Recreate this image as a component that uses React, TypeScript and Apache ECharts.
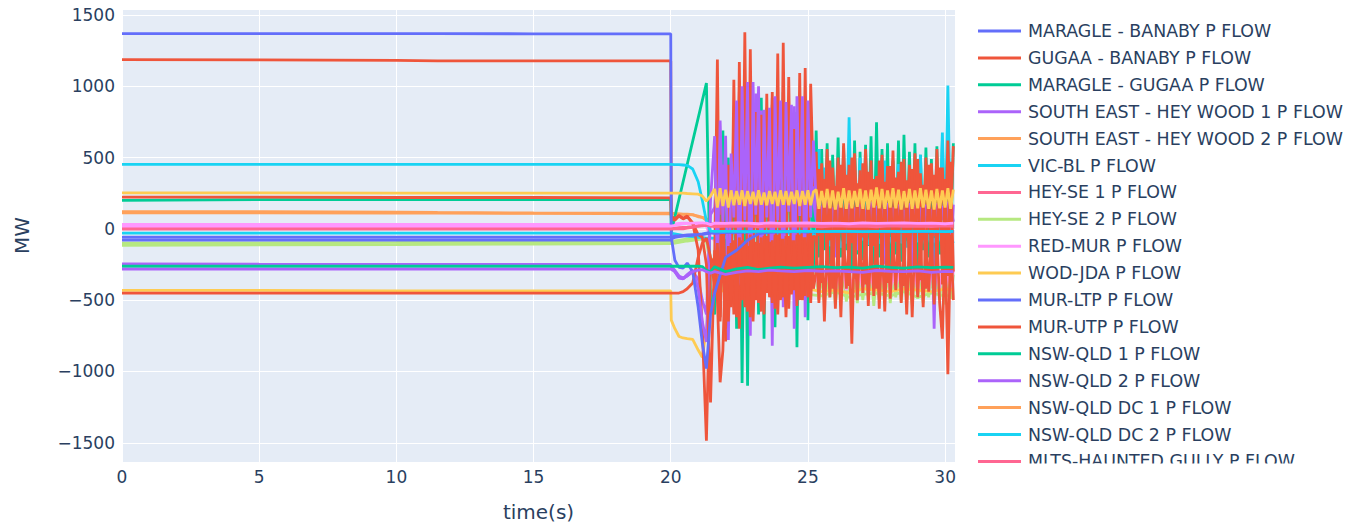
import React, { useEffect, useRef } from 'react';
import * as echarts from 'echarts';

// ---------- DATA ----------
const LEGEND_NAMES = [
  'MARAGLE - BANABY P FLOW',
  'GUGAA - BANABY P FLOW',
  'MARAGLE - GUGAA P FLOW',
  'SOUTH EAST - HEY WOOD 1 P FLOW',
  'SOUTH EAST - HEY WOOD 2 P FLOW',
  'VIC-BL P FLOW',
  'HEY-SE 1 P FLOW',
  'HEY-SE 2 P FLOW',
  'RED-MUR P FLOW',
  'WOD-JDA P FLOW',
  'MUR-LTP P FLOW',
  'MUR-UTP P FLOW',
  'NSW-QLD 1 P FLOW',
  'NSW-QLD 2 P FLOW',
  'NSW-QLD DC 1 P FLOW',
  'NSW-QLD DC 2 P FLOW',
  'MLTS-HAUNTED GULLY P FLOW',
];

const T_PRE = [0, 5, 10, 11.5, 15, 20];
const T_TR = [20.02, 20.15, 20.3, 20.45, 20.6, 20.8, 21.0, 21.15, 21.3, 21.45];
const T_DENSE = [
  21.6, 21.7, 21.8, 21.9, 22.0, 22.1, 22.2, 22.3, 22.4, 22.5,
  22.6, 22.7, 22.8, 22.9, 23.0, 23.1, 23.2, 23.3, 23.4, 23.5,
  23.6, 23.7, 23.8, 23.9, 24.0, 24.1, 24.2, 24.3, 24.4, 24.5,
  24.6, 24.7, 24.8, 24.9, 25.0, 25.1, 25.2, 25.3, 25.4, 25.5,
  25.6, 25.7, 25.8, 25.9, 26.0, 26.1, 26.2, 26.3, 26.4, 26.5,
  26.6, 26.7, 26.8, 26.9, 27.0, 27.1, 27.2, 27.3, 27.4, 27.5,
  27.6, 27.7, 27.8, 27.9, 28.0, 28.1, 28.2, 28.3, 28.4, 28.5,
  28.6, 28.7, 28.8, 28.9, 29.0, 29.1, 29.2, 29.3, 29.4, 29.5,
  29.6, 29.7, 29.8, 29.9, 30.0, 30.1, 30.2, 30.3,
];
const T_SLOW = [21.6, 22.0, 22.4, 22.8, 23.2, 23.6, 24.0, 24.5, 25.0, 25.5,
  26.0, 26.5, 27.0, 27.5, 28.0, 28.5, 29.0, 29.5, 30.0, 30.3];

const S01 = {
  pre: [1370, 1370, 1370, 1370, 1368, 1368],
  tr: [-60, -220, -270, -275, -240, -300, -550, -800, -980, -600],
  post: [-450, -200, -150, -80, -35, -22, -20, -18, -20, -18, -20, -18, -20, -18, -20, -18, -20, -18, -20, -18],
};
const S02 = {
  pre: [1187, 1185, 1182, 1178, 1178, 1178],
  tr: [90, 70, 95, 75, 90, 40, -150, -700, -1486, -250],
  post: [
    -200, 1187, -620, 300, -790, 450, -450, 1046, -560, 1170,
    -400, 1378, -500, 1260, -350, 820, -480, 800, -300, 947,
    -420, 960, -330, 1229, -460, 1305, -380, 1065, -300, 700,
    -420, 1093, -350, 1128, -400, 1018, 300,
    540, -50, 460, 20, 560, -80, 430, 60, 500, -30,
    600, 10, 450, -100, 530, 40, 410, -60, 560, 0,
    480, -120, 370, 50, 520, -40, 440, 30, 550, -90,
    400, 20, 490, -60, 450, 40, 530, -20, 390, -80,
    500, 10, 460, -50, 560, 30, 430, -70, 620, 20,
    580,
  ],
};
const S03 = {
  pre: [200, 205, 205, 205, 205, 205],
  tr: [-20, null, null, null, null, null, null, null, 1022, -500],
  post: [
    -600, 773, -200, 690, -400, 500, -350, 600, -700, 650,
    -1080, 700, -1100, 750, -500, 800, -600, 920, -770, 850,
    -450, 870, -690, 800, -400, 960, -500, 780, -350, 820,
    -830, 750, -400, 800, -640, 700, -300,
    690, -200, 560, -150, 600, -250, 520, -100, 640, -200,
    580, -150, 500, -300, 620, -180, 540, -220, 590, -120,
    650, -250, 747, -200, 560, -150, 600, -300, 480, -180,
    620, -230, 660, -120, 540, -200, 600, -260, 520, -150,
    570, -200, 490, -250, 580, -180, 620, -220, 560, -150,
    600,
  ],
};
const S04 = {
  pre: [-245, -248, -250, -250, -250, -250],
  tr: [-260, -300, -345, -350, -320, -290, -420, -650, -794, 200],
  post: [
    650, -300, 759, 50, 653, -780, 529, 80, 900, -600,
    1000, 60, 1030, -750, 1030, 100, 1000, -500, 835, 80,
    850, -820, 930, 60, 900, -550, 890, 120, 870, -700,
    930, 90, 930, -620, 900, 80, 620,
    180, 40, 160, 30, 190, 60, 150, -200, 170, 50,
    140, 20, 180, 60, 150, -150, 170, 40, 130, 50,
    190, 30, 160, 60, 140, -250, 180, 40, 150, 50,
    170, 20, 130, 60, 180, -300, 160, 40, 150, 30,
    170, 50, 140, -700, 180, 30, 160, 40, 190, -200,
    170,
  ],
};
const S05 = {
  pre: [120, 120, 118, 115, 112, 110],
  tr: [108, 106, 105, 104, 103, 100, 85, 80, 72, 40],
  post: [30, 28, 25, 27, 25, 26, 24, 25, 26, 25, 24, 25, 26, 25, 24, 25, 26, 25, 24, 25],
};
const S06 = {
  pre: [452, 452, 452, 452, 452, 452],
  tr: [452, 450, 450, 448, 445, 420, 330, 200, 53, -15],
  post: [-18, -18, -18, -20, -18, -18, -20, -18, -18, -20, -18, -18, -20, -18, -18, -20, -18, -18, -20, -18],
};
const S07 = {
  pre: [-2, -2, -2, -2, -2, -2],
  tr: [-2, 0, 2, 0, 5, 10, 20, 25, 30, 25],
  post: [30, 25, 35, 28, 32, 25, 30, 28, 35, 27, 30, 25, 32, 28, 30, 26, 33, 28, 30, 27],
};
const S08 = {
  pre: [-100, -98, -95, -92, -90, -88],
  tr: [-88, -85, -80, -75, -70, -65, -60, -55, -80, -200],
  post: [
    -250, -420, -300, -440, -280, -400, -300, -380, -260, -420,
    -300, -400, -280, -380, -300, -420, -260, -400, -300, -380,
    -280, -420, -300, -400, -260, -380, -300, -420, -280, -400,
    -300, -380, -260, -420, -300, -400, -280,
    -320, -500, -300, -520, -340, -480, -310, -530, -330, -490,
    -300, -510, -320, -470, -340, -520, -300, -500, -330, -480,
    -310, -540, -320, -500, -340, -490, -300, -520, -330, -480,
    -310, -510, -320, -500, -340, -530, -300, -490, -330, -520,
    -310, -480, -320, -510, -340, -500, -300, -530, -330, -490,
    -320,
  ],
};
const S09 = {
  pre: [32, 32, 32, 32, 32, 32],
  tr: [32, 35, 38, 40, 40, 38, 35, 30, 20, -60],
  post: [
    -80, -120, -100, -200, -110, -300, -120, -330, -100, -340,
    -130, -320, -110, -350, -120, -330, -140, -300, -160, -320,
    -220, -380, -250, -400, -240, -380, -260, -400, -250, -390,
    -270, -410, -250, -380, -260, -400, -270,
    -300, -420, -280, -430, -310, -400, -290, -440, -300, -410,
    -280, -430, -310, -420, -290, -400, -300, -440, -280, -410,
    -310, -430, -290, -400, -300, -420, -280, -440, -310, -410,
    -290, -430, -300, -400, -280, -420, -310, -440, -290, -410,
    -300, -430, -280, -400, -310, -420, -290, -440, -300, -410,
    -290,
  ],
};
const S10 = {
  pre: [252, 252, 250, 250, 250, 250],
  tr: [250, 250, 250, 250, 248, 246, 243, 230, 194, 230],
  post: [
    280, 150, 285, 160, 275, 150, 270, 165, 265, 170,
    270, 160, 265, 175, 260, 165, 270, 170, 255, 165,
    265, 175, 260, 160, 270, 170, 265, 165, 260, 175,
    270, 160, 265, 170, 270, 165, 260,
    275, 140, 265, 150, 280, 145, 270, 135, 260, 150,
    285, 140, 270, 145, 265, 155, 280, 140, 270, 135,
    275, 150, 290, 145, 280, 140, 270, 150, 285, 145,
    275, 135, 265, 150, 280, 140, 270, 145, 285, 150,
    275, 140, 270, 135, 280, 145, 270, 150, 285, 140,
    275,
  ],
};
const S11 = {
  pre: [-78, -78, -78, -78, -78, -78],
  tr: [-70, -60, -55, -50, -48, -45, -42, -40, -35, -30],
  post: [-30, -25, -22, -22, -20, -20, -22, -20, -20, -22, -20, -20, -22, -20, -20, -22, -20, -20, -22, -20],
};
const S12 = {
  pre: [222, 222, 220, 220, 220, 218],
  tr: [75, 60, 90, 70, 85, 40, -40, -60, -250, -1218],
  post: [
    -150, -500, -1076, -853, -200, -650, -100, -600, -150, -700,
    -80, -550, -120, -620, -60, -500, -100, -580, -50, -450,
    -90, -520, -40, -600, -70, -480, -50, -560, -80, -430,
    -40, -500, -60, -470, -30, -520, -50,
    -60, -520, -40, -650, -80, -480, -30, -560, -70, -620,
    -50, -420, -90, -806, -40, -500, -60, -450, -30, -540,
    -80, -470, -50, -560, -70, -580, -40, -490, -60, -430,
    -30, -520, -80, -600, -50, -620, -40, -480, -70, -550,
    -30, -440, -60, -530, -50, -520, -770, -50, -1020, -40,
    -500,
  ],
};
const S13 = {
  pre: [-262, -262, -262, -262, -262, -262],
  tr: [-262, -262, -262, -262, -262, -262, -262, -265, -290, -300],
  post: [-265, -300, -280, -270, -285, -275, -268, -275, -270, -265, -272, -268, -275, -262, -270, -275, -266, -272, -268, -270],
};
const S14 = {
  pre: [-282, -282, -282, -282, -282, -282],
  tr: [-282, -300, -340, -350, -330, -300, -290, -285, -300, -310],
  post: [-300, -320, -305, -295, -300, -290, -295, -300, -292, -298, -295, -300, -305, -292, -298, -300, -295, -305, -298, -300],
};
const S15 = {
  pre: [112, 112, 110, 110, 108, 106],
  tr: [106, 105, 104, 102, 100, 98, 90, 80, 60, 35],
  post: [28, 25, 24, 26, 25, 24, 25, 26, 24, 25, 26, 24, 25, 26, 24, 25, 26, 24, 25, 24],
};
const S16 = {
  pre: [-30, -30, -30, -30, -30, -30],
  tr: [-30, -35, -40, -45, -50, -55, -60, -62, -65, -65],
  post: [
    -65, -66, -64, -65, -60, -40, -35, -30, -32, -28,
    -30, -25, -28, -30, -26, -28, -30, -25, -28, -30,
    -27, -25, -28, -30, -26, -28, -25, -30, -27, -25,
    -28, -30, -26, -28, -25, -30, -40,
    -60, 560, -100, 430, -50, -120, -60, -110, -40, -130,
    -70, -100, 782, -90, -50, -120, 500, -80, -60, -110,
    -40, -120, -70, -100, -50, 480, -90, -60, -120, -40,
    455, -100, -60, -130, -50, -110, -70, -90, 520, -60,
    -120, -40, -100, -70, -110, -50, 676, -90, 1006, -60,
    -100,
  ],
};
const S17 = {
  pre: [5, 5, 5, 5, 5, 5],
  tr: [5, 5, 8, 10, 12, 15, 20, 22, 25, 20],
  post: [15, 20, 18, 22, 15, 20, 18, 22, 20, 15, 22, 18, 20, 15, 22, 18, 20, 16, 22, 18],
};
const S18 = {
  pre: [-115, -112, -110, -108, -106, -104],
  tr: [-104, -100, -95, -90, -85, -80, -75, -70, -90, -250],
  post: [-380, -420, -400, -380, -420, -440, -450, -430, -460, -470, -440, -480, -460, -450, -470, -440, -480, -450, -470, -460],
};
const S19 = {
  pre: [20, 20, 20, 20, 20, 20],
  tr: [20, 25, 30, 35, 38, 40, 42, 42, 40, 30],
  post: [40, 38, 42, 40, 36, 42, 38, 40, 42, 38, 40, 36, 42, 38, 40, 42, 38, 40, 36, 40],
};
const S20 = {
  pre: [-432, -432, -435, -435, -435, -435],
  tr: [-640, -700, -755, -765, -770, -775, -850, -900, -700, -450],
  post: [-420, -440, -430, -400, -420, -440, -430, -410, -420, -440, -430, -450, -420, -430, -440, -420, -430, -440, -420, -430],
};
const S21 = {
  pre: [-58, -58, -58, -58, -58, -58],
  tr: [-55, -50, -48, -45, -42, -40, -38, -35, -30, -25],
  post: [-30, -25, -22, -20, -20, -22, -20, -20, -22, -20, -20, -22, -20, -20, -22, -20, -20, -22, -20, -20],
};
const S22 = {
  pre: [-450, -450, -450, -450, -450, -450],
  tr: [-450, -450, -450, -440, -420, -380, -200, -100, -65, -200],
  post: [
    -400, -100, -650, -60, -700, -120, -550, -80, -620, -60,
    -500, -100, -580, -40, -650, -90, -520, -60, -600, -50,
    -480, -80, -560, -40, -500, -70, -620, -50, -460, -80,
    -540, -40, -500, -60, -480, -30, -420,
    -300, 420, -380, 350, -250, 480, -420, 300, -330, 450,
    -280, 380, -400, 500, -350, 320, -260, 460, -390, 400,
    -300, 350, -420, 480, -270, 330, -380, 440, -310, 360,
    -250, 470, -400, 340, -330, 420, -280, 490, -360, 310,
    -420, 450, -300, 380, -260, 430, -390, 350, -330, 470,
    -300,
  ],
};
const S23 = {
  pre: [-255, -255, -255, -255, -255, -255],
  tr: [-265, -290, -330, -345, -330, -300, -350, -500, -600, 100],
  post: [
    150, 500, 100, 450, 150, 400, 100, 700, 150, 960,
    200, 980, 100, 1020, 150, 950, 200, 830, 150, 800,
    100, 920, 200, 850, 150, 900, 100, 820, 200, 860,
    150, 920, 100, 900, 150, 650, 200,
    60, 170, 30, 150, 50, 180, 40, 160, 20, 170,
    60, 140, 30, 190, 50, 150, 40, 170, 60, 130,
    30, 180, 50, 160, 40, 150, 20, 170, 60, 140,
    30, 180, 50, 160, 40, 190, 60, 150, 30, 170,
    50, 140, 40, 180, 20, 160, 60, 150, 30, 170,
    50,
  ],
};

const SERIES_VALUES = [S01, S02, S03, S04, S05, S06, S07, S08, S09, S10, S11,
  S12, S13, S14, S15, S16, S17, S18, S19, S20, S21, S22, S23];

// ---------- STYLE ----------
const PALETTE = ['#636efa', '#EF553B', '#00cc96', '#ab63fa', '#FFA15A', '#19d3f3',
  '#FF6692', '#B6E880', '#FF97FF', '#FECB52'];
const COLOR_INDEX = [0, 1, 2, 3, 4, 5, 6, 7, 8, 9, 0, 1, 2, 3, 4, 5, 6, 7, 8, 9, 0, 1, 3];
const LAYER = [6, 3, 2, 4, 1, 6, 6, 1, 1, 6, 5, 5, 6, 6, 1, 2, 6, 1, 6, 1, 5, 5, 2];
const FONT = 'DejaVu Sans';
const TEXT = '#2a3f5f';

function toPoints(s: { pre: number[]; tr: (number | null)[]; post: number[] }) {
  const out: number[][] = [];
  T_PRE.forEach((t, i) => out.push([t, s.pre[i]]));
  T_TR.forEach((t, i) => {
    const v = s.tr[i];
    if (v !== null && v !== undefined) out.push([t, v]);
  });
  const tp = s.post.length === T_DENSE.length ? T_DENSE : T_SLOW;
  tp.forEach((t, i) => out.push([t, s.post[i]]));
  return out;
}

const fmt = (v: number) => (v < 0 ? '\u2212' + Math.abs(v) : String(v));

export default function App() {
  const ref = useRef<HTMLDivElement>(null);
  useEffect(() => {
    if (!ref.current) return;
    const chart = echarts.init(ref.current, undefined, { renderer: 'svg' });
    const series = SERIES_VALUES.map((s, i) => {
      const c = PALETTE[COLOR_INDEX[i]];
      return {
        type: 'line',
        name: i < LEGEND_NAMES.length ? LEGEND_NAMES[i] : undefined,
        data: toPoints(s),
        showSymbol: false,
        symbol: 'none',
        color: c,
        lineStyle: { width: 2.8, color: c },
        z: LAYER[i],
        silent: true,
        emphasis: { disabled: true },
        animation: false,
      };
    });
    chart.setOption({
      animation: false,
      backgroundColor: '#ffffff',
      textStyle: { fontFamily: FONT },
      grid: {
        left: 122, right: 404, top: 9, bottom: 64,
        show: true, backgroundColor: '#E5ECF6', borderWidth: 0,
      },
      legend: {
        type: 'plain',
        orient: 'vertical',
        left: 978,
        top: 21,
        padding: 0,
        itemWidth: 43,
        itemHeight: 3,
        itemGap: 6.9,
        icon: 'rect',
        selectedMode: false,
        data: LEGEND_NAMES,
        textStyle: { fontFamily: FONT, fontSize: 17.4, lineHeight: 20, color: TEXT, padding: [0, 0, 0, 2] },
      },
      xAxis: {
        type: 'value',
        min: 0,
        max: 30.36,
        interval: 5,
        name: 'time(s)',
        nameLocation: 'middle',
        nameGap: 40,
        nameTextStyle: { fontFamily: FONT, fontSize: 20, color: TEXT },
        axisLine: { show: false },
        axisTick: { show: false },
        axisLabel: { fontFamily: FONT, fontSize: 17, color: TEXT, margin: 6, showMaxLabel: false },
        splitLine: { show: true, lineStyle: { color: '#ffffff', width: 1 } },
      },
      yAxis: {
        type: 'value',
        min: -1635,
        max: 1542,
        splitNumber: 6,
        name: 'MW',
        nameLocation: 'middle',
        nameGap: 90,
        nameTextStyle: { fontFamily: FONT, fontSize: 20, color: TEXT },
        axisLine: { show: false },
        axisTick: { show: false },
        axisLabel: {
          fontFamily: FONT, fontSize: 17, color: TEXT, margin: 7,
          showMinLabel: false, showMaxLabel: false, formatter: fmt,
        },
        splitLine: { show: true, lineStyle: { color: '#ffffff', width: 1 } },
      },
      graphic: [
        {
          type: 'rect',
          z: 100,
          silent: true,
          shape: { x: 960, y: 463.5, width: 399, height: 64 },
          style: { fill: '#ffffff' },
        },
      ],
      series,
    });
    return () => chart.dispose();
  }, []);
  return (
    <div
      ref={ref}
      style={{ position: 'fixed', left: 0, top: 0, width: 1359, height: 527 }}
    />
  );
}
